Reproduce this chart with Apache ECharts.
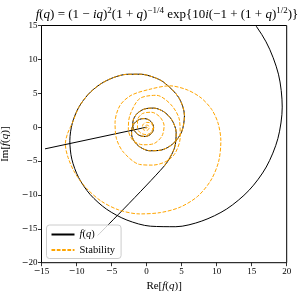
<!DOCTYPE html>
<html><head><meta charset="utf-8">
<script src="https://cdn.jsdelivr.net/npm/echarts@6/dist/echarts.min.js"></script>
<style>html,body{margin:0;padding:0;background:#fff}#c{width:301px;height:297px}</style>
</head><body><div id="c"></div><script>
// tick values
const xTicks = [-15, -10, -5, 0, 5, 10, 15, 20];
const yTicks = [-20, -15, -10, -5, 0, 5, 10, 15];

// f(q): branch for q < -1 (decays to the origin, then jumps out)
const fAX = [0.0, -14.5];
const fAY = [0.0, -3.2];

// f(q): branch for q > -1 (far point, inward spiral, outward spiral)
const fBX = [-7.0, 2.523, 3.961, 4.222, 3.602, 2.420, 1.018, -0.295, -1.293, -1.859, -1.985, -1.749, -1.277, -0.704, -0.143, 0.327, 0.671, 0.886, 0.988, 1.000,
  0.943, 0.829, 0.659, 0.424, 0.112, -0.284, -0.757, -1.271, -1.752, -2.088, -2.140, -1.778, -0.919, 0.418, 2.073, 3.739, 4.999, 5.403, 4.593, 2.439,
  0.905, -0.861, -2.776, -4.739, -6.630, -8.321, -9.685, -10.599, -10.955, -10.673, -9.703, -8.037, -5.711, -2.807, 0.546, 4.176, 7.879, 11.424, 14.606, 17.081, 18.739, 19.362, 18.822, 17.054, 14.067, 9.952];
const fBY = [-16.0, -5.731, -3.131, -0.798, 1.073, 2.299, 2.813, 2.681, 2.068, 1.195, 0.280, -0.503, -1.052, -1.332, -1.368, -1.220, -0.956, -0.639, -0.312, 0.000,
  0.287, 0.551, 0.791, 1.004, 1.172, 1.263, 1.228, 1.011, 0.561, -0.139, -1.049, -2.052, -2.949, -3.482, -3.388, -2.477, -0.714, 1.713, 4.371, 6.637,
  7.404, 7.814, 7.801, 7.313, 6.328, 4.850, 2.918, 0.603, -1.987, -4.719, -7.434, -9.956, -12.106, -13.710, -14.613, -14.689, -13.856, -12.081, -9.337, -5.880, -1.693, 2.958, 7.816, 12.587, 16.960, 20.620];

// Stability curve: follows f(q) outward, then spirals back in to the origin
const stX = [2.523, 3.961, 4.222, 3.602, 2.420, 1.018, -0.295, -1.293, -1.859, -1.985, -1.749, -1.277, -0.704, -0.143, 0.327, 0.671, 0.886, 0.988, 1.000,
  0.943, 0.829, 0.659, 0.424, 0.112, -0.284, -0.757, -1.271, -1.752, -2.088, -2.140, -1.778, -0.919, 0.418, 2.073, 3.739, 4.999, 5.403, 4.593, 2.439,
  0.905, -0.861, -2.776, -4.739, -6.630, -8.321, -9.685, -10.599,
  -11.3, -11.6, -11.2, -10.2, -8.6, -6.5, -4.0, -1.0, 2.0, 4.8, 7.3, 9.2, 10.3, 10.6, 10.2, 9.3, 7.8, 5.8, 3.3, 0.5, -2.2,
  -3.8, -4.5, -4.3, -3.3, -1.0, 0.9, 2.9, 4.1, 4.8, 4.7, 3.5, 1.4, -1.0,
  -2.4, -2.6, -2.0, -0.5, 1.1, 2.2, 2.5, 1.9, 0.7, -0.6,
  -1.3, -1.3, -0.8, 0.0, 0.7, 0.9, 0.6, 0.0, -0.5, -0.6, -0.3, 0.1, 0.35, 0.3, 0.0, -0.2, -0.2, 0.0, 0.1, 0.0];
const stY = [-5.731, -3.131, -0.798, 1.073, 2.299, 2.813, 2.681, 2.068, 1.195, 0.280, -0.503, -1.052, -1.332, -1.368, -1.220, -0.956, -0.639, -0.312, 0.000,
  0.287, 0.551, 0.791, 1.004, 1.172, 1.263, 1.228, 1.011, 0.561, -0.139, -1.049, -2.052, -2.949, -3.482, -3.388, -2.477, -0.714, 1.713, 4.371, 6.637,
  7.404, 7.814, 7.801, 7.313, 6.328, 4.850, 2.918, 0.603,
  -1.0, -2.5, -4.5, -6.8, -9.0, -10.9, -12.2, -12.8, -12.6, -11.8, -10.2, -7.8, -5.0, -2.0, 0.6, 2.6, 4.3, 5.5, 6.1, 5.6, 4.7,
  3.2, 0.7, -1.7, -3.7, -5.5, -5.6, -5.0, -3.8, -1.5, 1.0, 3.3, 4.7, 4.2,
  1.7, -0.3, -1.9, -2.6, -2.4, -1.3, 0.2, 1.5, 2.2, 2.0,
  1.0, -0.2, -0.9, -1.1, -0.7, 0.1, 0.6, 0.7, 0.4, -0.1, -0.45, -0.45, -0.15, 0.2, 0.3, 0.15, -0.1, -0.15, 0.0, 0.0];

function pts(xs, ys) { return xs.map((x, i) => [x, ys[i]]); }
function numLabel(v) { return v < 0 ? '{m|\u2212}{d|' + Math.abs(v) + '}' : '{d|' + v + '}'; }

const serif = 'Liberation Serif';
const labelRich = {
  m: { fontFamily: 'DejaVu Serif', fontSize: 8, color: '#000' },
  d: { fontFamily: serif, fontSize: 9, color: '#000' }
};

const chart = echarts.init(document.getElementById('c'), null, { renderer: 'canvas' });
chart.setOption({
  animation: false,
  backgroundColor: '#fff',
  title: {
    left: 162, top: 1, textAlign: 'center',
    text: '{i|f}{r|(}{i|q}{r|) = (1 \u2212 }{i|iq}{r|)}{s|2}{r|(1 + }{i|q}{r|)}{s|\u22121/4}{r| exp{10}{i|i}{r|(\u22121 + (1 + }{i|q}{r|)}{s|1/2}{r|)}}',
    textStyle: {
      fontFamily: serif, fontSize: 13, color: '#000', fontWeight: 'normal',
      rich: {
        r: { fontFamily: serif, fontSize: 13, color: '#000', lineHeight: 17 },
        i: { fontFamily: serif, fontSize: 13, fontStyle: 'italic', color: '#000', lineHeight: 17 },
        s: { fontFamily: serif, fontSize: 9, color: '#000', verticalAlign: 'top', lineHeight: 10 }
      }
    }
  },
  grid: { left: 41.5, top: 25.5, width: 245.2, height: 237.2, show: true, borderColor: '#000', borderWidth: 1,
    backgroundColor: 'transparent', containLabel: false, outerBoundsMode: 'none' },
  legend: {
    left: 46.5, top: 225, orient: 'vertical',
    padding: [4, 6, 3, 4], itemGap: 4.5, itemWidth: 23, itemHeight: 10,
    backgroundColor: 'rgba(255,255,255,0.8)', borderColor: '#cccccc', borderWidth: 1, borderRadius: 3,
    itemStyle: { opacity: 0 },
    data: ['f(q)', 'Stability'],
    formatter: function (n) { return n === 'f(q)' ? '{i|f}{r|(}{i|q}{r|)}' : '{r|Stability}'; },
    textStyle: {
      fontFamily: serif, fontSize: 10.5, color: '#000',
      rich: {
        r: { fontFamily: serif, fontSize: 10.5, color: '#000' },
        i: { fontFamily: serif, fontSize: 10.5, fontStyle: 'italic', color: '#000' }
      }
    }
  },
  xAxis: {
    type: 'value', min: xTicks[0], max: xTicks[xTicks.length - 1], interval: 5,
    splitLine: { show: false },
    axisLine: { show: false, onZero: false },
    axisTick: { show: true, inside: false, length: 3.5, lineStyle: { color: '#000', width: 0.8 } },
    axisLabel: { margin: 4, formatter: numLabel, rich: labelRich },
    name: '{r|Re[}{i|f}{r|(}{i|q}{r|)]}', nameLocation: 'middle', nameGap: 18,
    nameTextStyle: { rich: {
      r: { fontFamily: serif, fontSize: 11, color: '#000' },
      i: { fontFamily: serif, fontSize: 11, fontStyle: 'italic', color: '#000' } } }
  },
  yAxis: {
    type: 'value', min: yTicks[0], max: yTicks[yTicks.length - 1], interval: 5,
    splitLine: { show: false },
    axisLine: { show: false, onZero: false },
    axisTick: { show: true, inside: false, length: 3.5, lineStyle: { color: '#000', width: 0.8 } },
    axisLabel: { margin: 4, formatter: numLabel, rich: labelRich },
    name: '{r|Im[}{i|f}{r|(}{i|q}{r|)]}', nameLocation: 'middle', nameGap: 31, nameRotate: 90,
    nameTextStyle: { rich: {
      r: { fontFamily: serif, fontSize: 11, color: '#000' },
      i: { fontFamily: serif, fontSize: 11, fontStyle: 'italic', color: '#000' } } }
  },
  series: [
    { name: 'f(q)', type: 'line', data: pts(fAX, fAY), showSymbol: false, symbol: 'none', clip: true,
      lineStyle: { color: '#000', width: 1 }, itemStyle: { color: '#000' }, z: 2 },
    { name: 'f(q)', type: 'line', data: pts(fBX, fBY), showSymbol: false, symbol: 'none', clip: true, smooth: 0.3,
      lineStyle: { color: '#000', width: 1 }, itemStyle: { color: '#000' }, z: 2 },
    { name: 'Stability', type: 'line', data: pts(stX, stY), showSymbol: false, symbol: 'none', clip: true, smooth: 0.3,
      lineStyle: { color: '#ffa500', width: 1, type: [3.7, 1.6] }, itemStyle: { color: '#ffa500' }, z: 3 }
  ]
});
</script></body></html>
